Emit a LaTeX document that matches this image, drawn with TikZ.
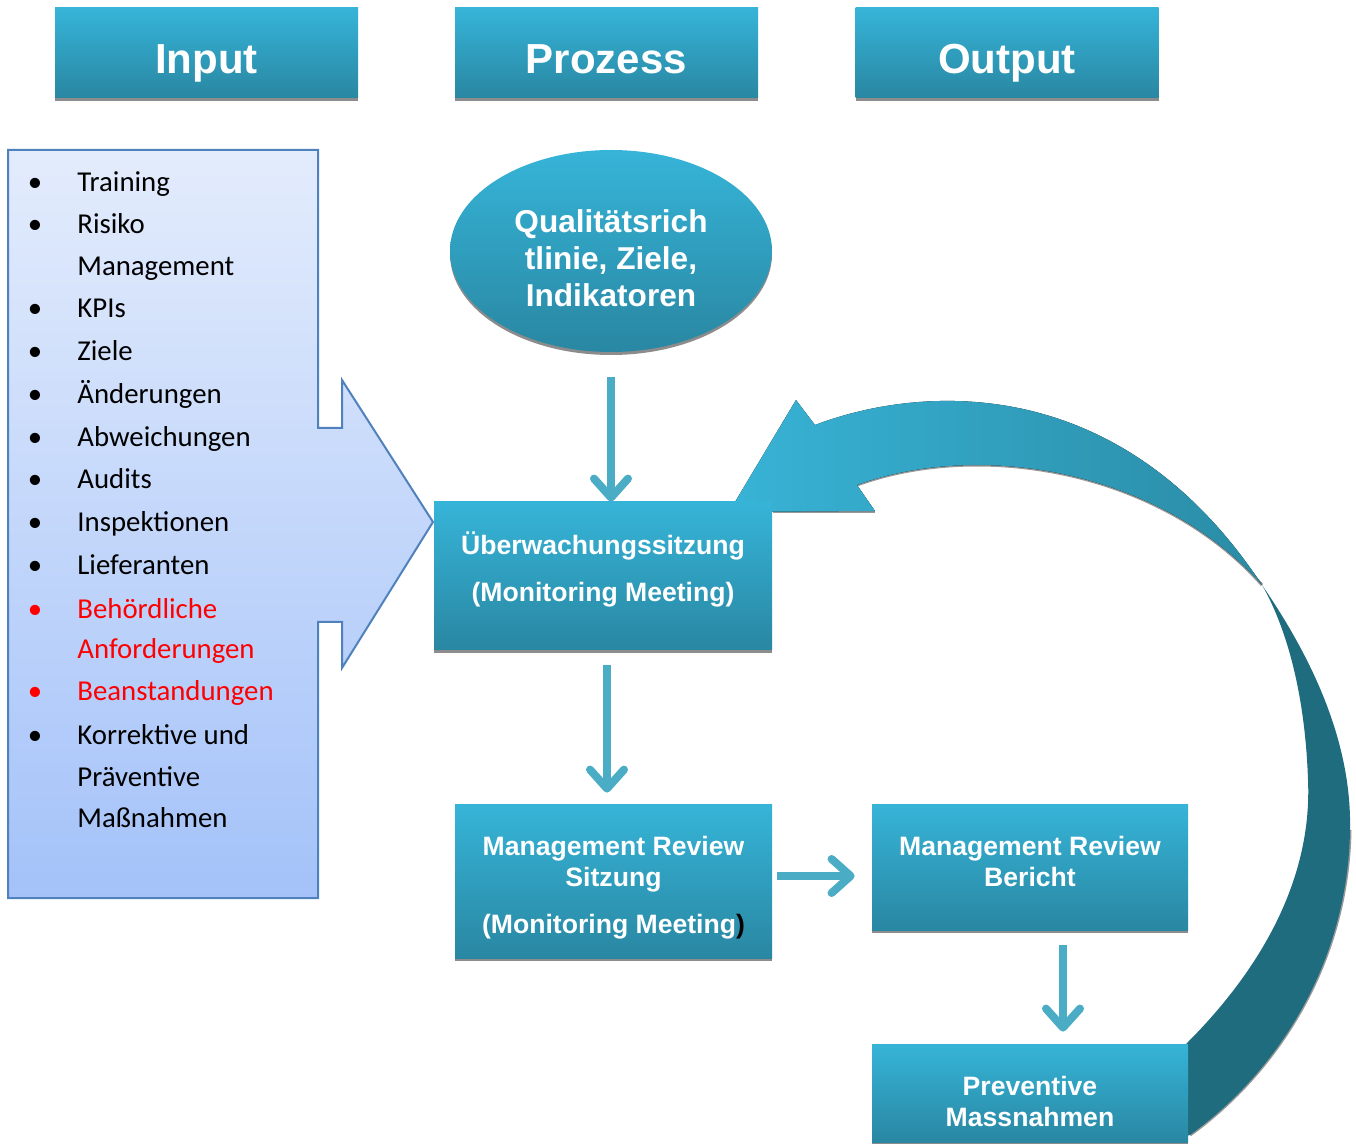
\documentclass[tikz,border=0pt]{standalone}
\usepackage{fontspec}
\setmainfont{Carlito}
\newfontfamily\kastenfont{Liberation Sans}
\usetikzlibrary{arrows.meta, shadows, shapes.geometric, positioning}

\definecolor{boxoben}{HTML}{36B4D8}
\definecolor{boxunten}{HTML}{2987A2}
\definecolor{listeoben}{HTML}{E3ECFC}
\definecolor{listeunten}{HTML}{A4C2F9}
\definecolor{listerand}{HTML}{4F81BD}
\definecolor{pfeilblau}{HTML}{4BACC6}
\definecolor{kreishell}{HTML}{38B3D6}
\definecolor{kreismitte}{HTML}{2A8CA6}
\definecolor{kreisdunkel}{HTML}{1F6C7F}

\begin{document}
\begin{tikzpicture}[x=0.5pt, y=-0.5pt,
	schatten/.style={drop shadow={shadow xshift=0pt, shadow yshift=-1.5pt, fill=black!45, opacity=1}},
	kopf/.style={rectangle, top color=boxoben, bottom color=boxunten, text=white, inner sep=0pt,
		font=\kastenfont\bfseries\fontsize{21}{25}\selectfont, minimum width=151.5pt, minimum height=45pt,
		text height=21pt, text depth=0pt, schatten},
	prozbox/.style={rectangle, top color=boxoben, bottom color=boxunten, text=white, inner sep=0pt, align=center,
		font=\kastenfont\bfseries\fontsize{13.3}{15.5}\selectfont, text depth=0pt, schatten},
	zielform/.style={ellipse, top color=boxoben, bottom color=boxunten, text=white, inner sep=0pt, align=center,
		font=\kastenfont\bfseries\fontsize{15.8}{18.5}\selectfont, minimum width=161pt, minimum height=101pt,
		text height=56pt, text depth=0pt, schatten},
	eintrag/.style={anchor=base west, inner sep=0pt, font=\fontsize{14.4}{17}\selectfont},
	punkt/.style={anchor=base, inner sep=0pt, font=\fontsize{14.4}{17}\selectfont},
	pfeil/.style={draw=pfeilblau, line width=4pt, -{Straight Barb[length=9.5pt, width=17pt, round]}},
	randlinie/.style={draw=black!40, line width=1.5pt}]

	\useasboundingbox (0,0) rectangle (1356,1144);

	%%% Rueckfuehrungspfeil (gebogen)
	\draw[randlinie] (1262,585) .. controls (1160,470) and (980,440) .. (857,485);
	\draw[randlinie] (875,512) -- (773,512);
	\draw[randlinie] (1350,830) .. controls (1348,960) and (1280,1070) .. (1190,1135);
	\fill[left color=kreishell, right color=kreismitte]
		(796,400) -- (815,425) .. controls (920,385) and (1120,370) .. (1262,585)
		.. controls (1160,470) and (980,440) .. (857,485) -- (875,511) -- (729,512) -- cycle;
	\fill[kreisdunkel]
		(1262,585) .. controls (1310,655) and (1352,740) .. (1350,830)
		.. controls (1348,960) and (1280,1070) .. (1190,1135) -- (1170,1140) -- (1170,1060) -- (1187,1043)
		.. controls (1270,960) and (1312,870) .. (1308,780)
		.. controls (1305,690) and (1285,625) .. (1262,585) -- cycle;

	%%% Eingangspfeil
	\draw[listerand, line width=1pt, top color=listeoben, bottom color=listeunten]
		(8,150) -- (318,150) -- (318,428) -- (342,428) -- (342,380) -- (433,522)
		-- (342,668) -- (342,622) -- (318,622) -- (318,898) -- (8,898) -- cycle;

	%%% Ueberschriften
	\node[kopf] (kInput) at (206.5,53) {Input};
	\node[kopf] (kProzess) at (606.5,53) {Prozess};
	\node[kopf] (kOutput) at (1007,53) {Output};

	%%% Eingaben (Text / Punkt / Farbe / Grundlinie)
	\foreach \t/\b/\c/\y [count=\i from 0] in {Training/1/black/192, Risiko/1/black/234, Management/0/black/276,
		KPIs/1/black/318, Ziele/1/black/361, Änderungen/1/black/404, Abweichungen/1/black/447, Audits/1/black/489,
		Inspektionen/1/black/532, Lieferanten/1/black/575, Behördliche/1/red/618, Anforderungen/0/red/659,
		Beanstandungen/1/red/701, Korrektive und/1/black/744, Präventive/0/black/786, Maßnahmen/0/black/827}{
		\node[eintrag, text=\c] (e\i) at (77,\y) {\t};
		\ifnum\b=1 \node[punkt, text=\c] (p\i) at (35,\y) {\textbullet}; \fi
	}

	%%% Prozess
	\node[zielform] (ziele) at (611,251) {Qualitätsrich\\tlinie, Ziele,\\Indikatoren};
	\node[prozbox, minimum width=169pt, minimum height=74pt, text height=26pt] (ueber) at (603,576)
		{Überwachungssitzung\\[8pt](Monitoring Meeting)};
	\node[prozbox, minimum width=158.5pt, minimum height=77pt, text height=52pt] (mrsitz) at (613.5,881)
		{Management Review\\Sitzung\\[8pt](Monitoring Meeting{\color{black})}};
	\node[prozbox, minimum width=158pt, minimum height=63pt, text height=19.5pt] (mrbericht) at (1030,867)
		{Management Review\\Bericht};
	\node[prozbox, minimum width=158pt, minimum height=49pt, text height=33.5pt] (praev) at (1030,1093)
		{Preventive\\Massnahmen};

	%%% Verbindungen
	\draw[pfeil, shorten <=12.5pt] (ziele.south) -- (ziele.south |- ueber.north);
	\draw[pfeil, shorten <=7.5pt, shorten >=5.5pt] ([xshift=2pt]ueber.south) -- ([xshift=2pt]ueber.south |- mrsitz.north);
	\draw[pfeil, shorten <=2.5pt, shorten >=8.5pt] ([yshift=2.5pt]mrsitz.east) -- ([yshift=2.5pt]mrsitz.east -| mrbericht.west);
	\draw[pfeil, shorten <=7.5pt, shorten >=6pt] ([xshift=16.5pt]mrbericht.south) -- ([xshift=16.5pt]mrbericht.south |- praev.north);
\end{tikzpicture}
\end{document}
